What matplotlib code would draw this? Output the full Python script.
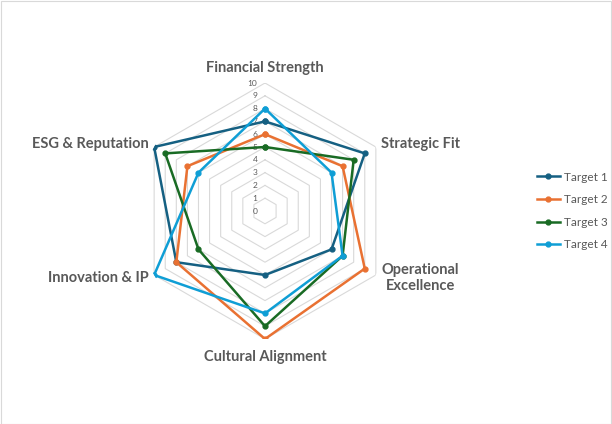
import matplotlib.pyplot as plt
import matplotlib.transforms as mtransforms
import numpy as np

# Data
categories = ['Financial Strength', 'Strategic Fit', 'Operational\nExcellence',
              'Cultural Alignment', 'Innovation & IP', 'ESG & Reputation']
series_names = ['Target 1', 'Target 2', 'Target 3', 'Target 4']
target1 = [7, 9, 6, 5, 8, 10]
target2 = [6, 7, 9, 10, 8, 7]
target3 = [5, 8, 7, 9, 6, 9]
target4 = [8, 6, 7, 8, 10, 6]
tick_levels = list(range(0, 11))

colors = ['#156082', '#E97132', '#196B24', '#0F9ED5']
text_gray = '#595959'
grid_gray = '#D9D9D9'

fig = plt.figure(figsize=(6.12, 4.24), dpi=100)
fig.patches.append(plt.Rectangle((0.001, 0.001), 0.998, 0.997, transform=fig.transFigure,
                                 fill=False, edgecolor=grid_gray, linewidth=0.8))

# Polar axes, center ~ (265, 211) px, radius 128 px
ax = fig.add_axes([137 / 612, 85 / 424, 256 / 612, 256 / 424], projection='polar')
ax.set_theta_offset(np.pi / 2)
ax.set_theta_direction(-1)
ax.set_ylim(0, 10)
ax.grid(False)
ax.spines['polar'].set_visible(False)
ax.set_xticks([])
ax.set_yticks([])
ax.patch.set_alpha(0)

n = len(categories)
angles = np.linspace(0, 2 * np.pi, n, endpoint=False)
closed = np.append(angles, angles[0])

# Hexagonal gridlines
for lvl in tick_levels[1:]:
    ax.plot(closed, [lvl] * (n + 1), color=grid_gray, linewidth=0.8, zorder=1)

# Value labels along the top axis
lab_tr = mtransforms.offset_copy(ax.transData, fig=fig, x=-5.5, y=0, units='points')
for lvl in tick_levels:
    ax.text(0, lvl, str(lvl), transform=lab_tr, ha='right', va='center',
            fontsize=6, color=text_gray, family='Lato')

# Series
for name, vals, c in zip(series_names, [target1, target2, target3, target4], colors):
    ax.plot(closed, vals + vals[:1], color=c, linewidth=1.8, marker='o',
            markersize=3.5, label=name, zorder=3)

# Category labels
label_pos = [(11.2, 'center', 'center'), (10.5, 'left', 'center'), (10.5, 'left', 'center'),
             (11.4, 'center', 'center'), (10.5, 'right', 'center'), (10.5, 'right', 'center')]
for ang, cat, (r, ha, va) in zip(angles, categories, label_pos):
    ax.text(ang, r, cat, ha=ha, va=va, multialignment='center', fontsize=10.5,
            fontweight='bold', color=text_gray, family='Lato', linespacing=1.2)

leg = fig.legend(loc='upper left', bbox_to_anchor=(526 / 612, 1 - 161 / 424), frameon=False,
                 handlelength=2.0, handletextpad=0.3, labelspacing=0.98,
                 prop={'family': 'Lato', 'size': 8.5})
for t in leg.get_texts():
    t.set_color(text_gray)

fig.savefig('out.png', dpi=100)
